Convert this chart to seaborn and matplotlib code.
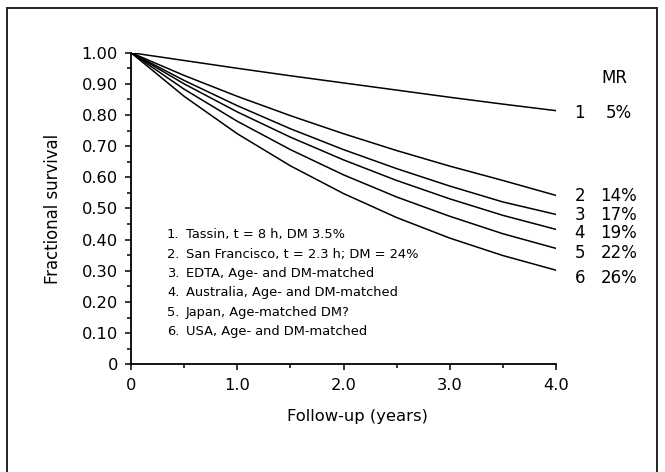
import matplotlib
matplotlib.use("Agg")
import matplotlib.pyplot as plt
from matplotlib.lines import Line2D
from matplotlib.ticker import FixedLocator
import seaborn as sns
import pandas as pd

# ---- data ----
years = [0.0, 0.5, 1.0, 1.5, 2.0, 2.5, 3.0, 3.5, 4.0]
series_ids = ["1", "2", "3", "4", "5", "6"]
s1 = [1.000, 0.975, 0.950, 0.926, 0.903, 0.880, 0.857, 0.835, 0.814]
s2 = [1.000, 0.927, 0.860, 0.798, 0.740, 0.686, 0.636, 0.590, 0.542]
s3 = [1.000, 0.911, 0.830, 0.756, 0.689, 0.628, 0.572, 0.521, 0.481]
s4 = [1.000, 0.900, 0.810, 0.729, 0.656, 0.590, 0.531, 0.478, 0.433]
s5 = [1.000, 0.883, 0.780, 0.689, 0.608, 0.537, 0.475, 0.419, 0.372]
s6 = [1.000, 0.860, 0.740, 0.637, 0.548, 0.471, 0.405, 0.349, 0.302]
mr_values = ["5%", "14%", "17%", "19%", "22%", "26%"]
legend_texts = [
    "Tassin, t = 8 h, DM 3.5%",
    "San Francisco, t = 2.3 h; DM = 24%",
    "EDTA, Age- and DM-matched",
    "Australia, Age- and DM-matched",
    "Japan, Age-matched DM?",
    "USA, Age- and DM-matched",
]
y_ticks = [0.0, 0.1, 0.2, 0.3, 0.4, 0.5, 0.6, 0.7, 0.8, 0.9, 1.0]
y_tick_labels = ["0", "0.10", "0.20", "0.30", "0.40", "0.50", "0.60", "0.70", "0.80", "0.90", "1.00"]
x_ticks = [0, 1, 2, 3, 4]
x_tick_labels = ["0", "1.0", "2.0", "3.0", "4.0"]

# ---- layout constants ----
W, H = 665, 472
ax_l, ax_r, ax_t, ax_b = 131.0, 556.0, 52.7, 364.3
mr_label_y = [0.808, 0.539, 0.479, 0.421, 0.358, 0.277]
legend_y = [0.415, 0.351, 0.290, 0.229, 0.165, 0.104]

sns.set_style("ticks")
plt.rcParams["font.family"] = ["DejaVu Sans"]
plt.rcParams["text.color"] = "black"
plt.rcParams["axes.labelcolor"] = "black"
plt.rcParams["xtick.color"] = "black"
plt.rcParams["ytick.color"] = "black"

fig = plt.figure(figsize=(W / 100, H / 100), dpi=100)
ax = fig.add_axes([ax_l / W, 1 - ax_b / H, (ax_r - ax_l) / W, (ax_b - ax_t) / H])

rows = []
for sid, vals in zip(series_ids, [s1, s2, s3, s4, s5, s6]):
    for x, v in zip(years, vals):
        rows.append({"year": x, "survival": v, "series": sid})
df = pd.DataFrame(rows)

sns.lineplot(data=df, x="year", y="survival", hue="series",
             palette=["black"] * 6, legend=False, ax=ax, linewidth=1.1)

ax.set_xlim(0, 4)
ax.set_ylim(0, 1)
ax.yaxis.set_major_locator(FixedLocator(y_ticks))
ax.set_yticklabels(y_tick_labels)
ax.yaxis.set_minor_locator(FixedLocator([0.05 + 0.1 * i for i in range(10)]))
ax.xaxis.set_major_locator(FixedLocator(x_ticks))
ax.set_xticklabels(x_tick_labels)
ax.xaxis.set_minor_locator(FixedLocator([0.5, 1.5, 2.5, 3.5]))

for side in ["top", "right"]:
    ax.spines[side].set_visible(False)
for side in ["left", "bottom"]:
    ax.spines[side].set_linewidth(1.3)
    ax.spines[side].set_color("black")

ax.tick_params(axis="both", which="both", direction="out", color="black",
               labelcolor="black", width=1.1)
ax.tick_params(axis="y", which="major", length=4.5, pad=5, labelsize=11.7)
ax.tick_params(axis="y", which="minor", length=3)
ax.tick_params(axis="x", which="major", length=4, pad=6, labelsize=11.7)
ax.tick_params(axis="x", which="minor", length=3)

ax.set_xlabel("Follow-up (years)", fontsize=11.8, color="black")
ax.set_ylabel("Fractional survival", fontsize=11.9, color="black")
ax.xaxis.set_label_coords(0.532, -0.142)
ax.yaxis.set_label_coords(-0.162, 0.5)

# MR labels at right
ax.text(4.553, 0.919, "MR", fontsize=12, ha="center", va="center",
        color="black", clip_on=False)
for sid, mr, yy in zip(series_ids, mr_values, mr_label_y):
    ax.text(4.224, yy, sid, fontsize=12, ha="center", va="center",
            color="black", clip_on=False)
    ax.text(4.59, yy, mr, fontsize=12, ha="center", va="center",
            color="black", clip_on=False)

# inline legend
for sid, txt, yy in zip(series_ids, legend_texts, legend_y):
    ax.text(0.339, yy, sid + ".", fontsize=9.4, ha="left", va="center", color="black")
    ax.text(0.517, yy, txt, fontsize=9.4, ha="left", va="center", color="black")

# outer frame
fc = "#222222"
xl, xr, yt = 7.3 / W, 657 / W, 1 - 8 / H
fig.add_artist(Line2D([xl, xl], [0, yt], transform=fig.transFigure, color=fc, lw=1.4))
fig.add_artist(Line2D([xl, xr], [yt, yt], transform=fig.transFigure, color=fc, lw=1.4))
fig.add_artist(Line2D([xr, xr], [0, yt], transform=fig.transFigure, color=fc, lw=1.4))

fig.savefig("out.png", dpi=100)
